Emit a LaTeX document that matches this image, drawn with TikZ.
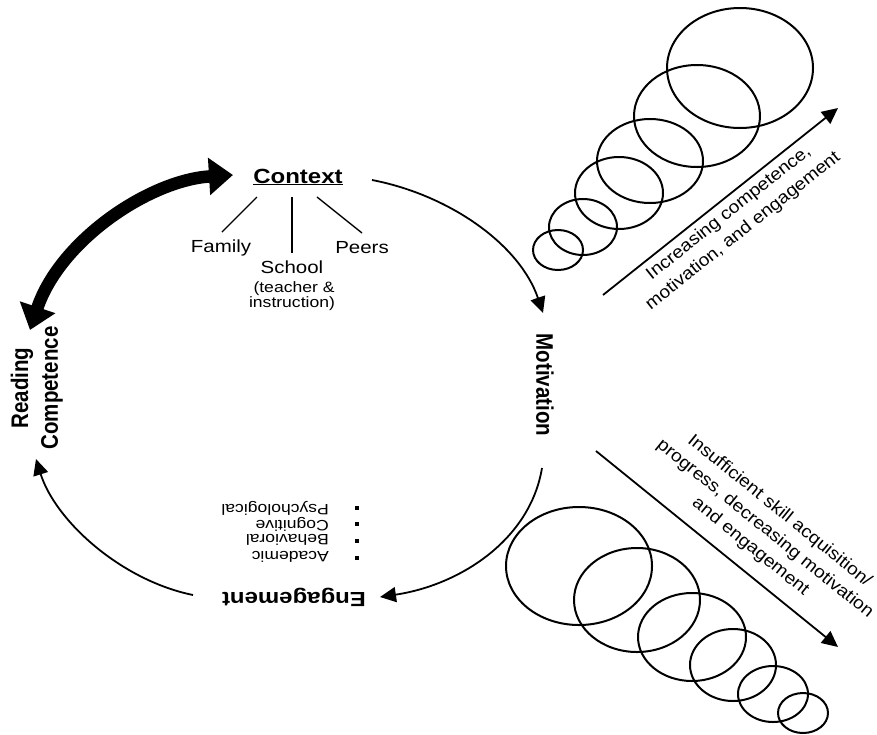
\documentclass[tikz,border=0pt]{standalone}
\usepackage{fontspec}
\usepackage{graphicx}
\setmainfont{Liberation Sans}
\usetikzlibrary{arrows.meta}
\newcommand\hs[1]{\scalebox{1.17}[1]{#1}}
\newcommand\vsx[1]{\scalebox{1}[1.17]{#1}}
\begin{document}
\begin{tikzpicture}[x=1pt,y=-1pt,
  head/.style={font=\fontsize{20.5}{25.6}\selectfont\bfseries, inner sep=0pt},
  sub/.style={font=\fontsize{17.5}{21}\selectfont, inner sep=0pt},
  small/.style={font=\fontsize{15}{18}\selectfont, inner sep=0pt},
  bul/.style={font=\fontsize{15}{18}\selectfont, inner sep=0pt},
  diag/.style={font=\fontsize{17.5}{23}\selectfont, inner sep=0pt},
  dot/.style={fill=black, minimum size=4pt, inner sep=0pt, draw=none},
  conn/.style={line width=1.8pt, -{Triangle[length=16pt,width=15pt]}},
  bigarrow/.style={line width=12.5pt, {Triangle[length=24pt,width=36pt]}-{Triangle[length=24pt,width=36pt]}},
  ring/.style={line width=2pt},
  branch/.style={line width=1.4pt}]
\fill[white] (0,0) rectangle (877,734);
\useasboundingbox (0,0) rectangle (877,734);

% central labels
\node[head, anchor=base] (ctx) at (298,183) {\hs{\underline{Context}}};
\node[sub, anchor=base] (fam) at (221,252) {\hs{Family}};
\node[sub, anchor=base] (peer) at (362,253) {\hs{Peers}};
\node[sub, anchor=base] (sch) at (292,273) {\hs{School}};
\node[small, anchor=base] (sch2) at (294,292) {\hs{(teacher \&}};
\node[small, anchor=base] (sch3) at (292,307) {\hs{instruction)}};

\node[head, rotate=90] (rc) at (37,388) {\vsx{\begin{tabular}{@{}c@{}}Reading\\Competence\end{tabular}}};
\node[head, rotate=-90] (mot) at (545,385) {\vsx{Motivation}};
\node[head, rotate=180] (eng) at (294,597) {\hs{Engagement}};

% engagement list (upside down)
\node[bul, rotate=180, anchor=west] (l1) at (329,557) {\hs{Academic}};
\node[bul, rotate=180, anchor=west] (l2) at (329,540) {\hs{Behavioral}};
\node[bul, rotate=180, anchor=west] (l3) at (329,524) {\hs{Cognitive}};
\node[bul, rotate=180, anchor=west] (l4) at (329,508) {\hs{Psychological}};
\node[dot] (d1) at (357,558) {};
\node[dot] (d2) at (357,541) {};
\node[dot] (d3) at (357,524) {};
\node[dot] (d4) at (357,508) {};

% context branches
\coordinate (bf1) at (257,197); \coordinate (bf2) at (222,232);
\coordinate (bs1) at (292,197); \coordinate (bs2) at (292,253);
\coordinate (bp1) at (317,197); \coordinate (bp2) at (362,233);
\draw[branch] (bf1) -- (bf2);
\draw[branch] (bs1) -- (bs2);
\draw[branch] (bp1) -- (bp2);

% cycle arrows
\coordinate (a1s) at (372,180); \coordinate (a1e) at (543,313);
\draw[conn] (a1s) .. controls (450,195) and (520,245) .. (a1e);
\coordinate (a2s) at (542,468); \coordinate (a2e) at (380,597);
\draw[conn] (a2s) .. controls (530,540) and (460,585) .. (a2e);
\coordinate (a3s) at (193,595); \coordinate (a3e) at (36,459);
\draw[conn] (a3s) .. controls (120,580) and (55,520) .. (a3e);
\coordinate (t1) at (30,330); \coordinate (t2) at (233,175);
\draw[bigarrow] (t1) .. controls (60,240) and (150,180) .. (t2);

% upper ellipses
\draw[ring] (558,250) ellipse [x radius=25pt, y radius=20pt];
\draw[ring] (583,227) ellipse [x radius=34pt, y radius=28pt];
\draw[ring] (619,193) ellipse [x radius=44pt, y radius=36pt];
\draw[ring] (650,161) ellipse [x radius=53pt, y radius=42pt];
\draw[ring] (697,116) ellipse [x radius=63pt, y radius=51pt];
\draw[ring] (740,68) ellipse [x radius=73pt, y radius=60pt];

% lower ellipses
\draw[ring] (579,566) ellipse [x radius=73pt, y radius=59pt];
\draw[ring] (637,600) ellipse [x radius=63pt, y radius=52pt];
\draw[ring] (692,637) ellipse [x radius=54pt, y radius=44pt];
\draw[ring] (733,665) ellipse [x radius=43pt, y radius=36pt];
\draw[ring] (773,694) ellipse [x radius=35pt, y radius=28pt];
\draw[ring] (803,713) ellipse [x radius=25pt, y radius=20pt];

% trend arrows
\coordinate (u1) at (603,295); \coordinate (u2) at (838,108);
\draw[conn] (u1) -- (u2);
\coordinate (w1) at (596,451); \coordinate (w2) at (838,647);
\draw[conn] (w1) -- (w2);

\node[diag, rotate=38.5] (uplab) at (736,222) {\scalebox{1.1}[1]{\begin{tabular}{@{}c@{}}Increasing competence,\\motivation, and engagement\end{tabular}}};
\node[diag, rotate=-39] (downlab) at (765,529) {\scalebox{1.1}[1]{\begin{tabular}{@{}c@{}}Insufficient skill acquisition/\\progress, decreasing motivation\\and engagement\end{tabular}}};
\end{tikzpicture}
\end{document}
